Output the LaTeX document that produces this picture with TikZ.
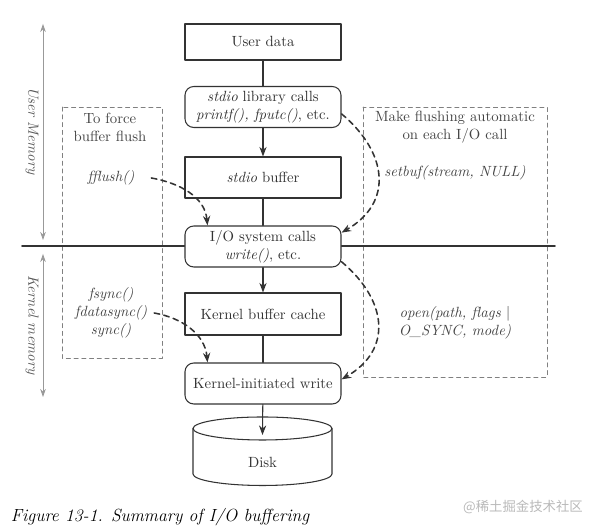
\documentclass[tikz,border=0pt]{standalone}
\usepackage{fontspec}
\newfontfamily\cjk{Noto Sans CJK SC}
\usetikzlibrary{calc,arrows.meta}
\definecolor{ink}{HTML}{333333}
\definecolor{sidetext}{HTML}{444444}
\begin{document}
\begin{tikzpicture}[x=0.025cm, y=0.025cm, font=\fontsize{10.5}{12.8}\selectfont, line join=round, line cap=round, >={Stealth[length=2.4mm,width=1.8mm]},
    box/.style={draw=ink, line width=0.75pt, fill=white, text=ink, align=center, minimum width=3.9cm, minimum height=1.025cm, inner sep=1pt},
    rbox/.style={box, rounded corners=2.2mm},
    link/.style={draw=ink, line width=0.75pt},
    flush/.style={->, draw=ink, line width=1.1pt, dash pattern=on 4pt off 3pt},
    zone/.style={draw=gray, line width=0.5pt, dash pattern=on 3pt off 2.5pt},
    memspan/.style={<->, draw=gray!80, line width=0.6pt, >={Stealth[length=2mm,width=1.4mm]}},
    side/.style={text=sidetext, align=center},
    call/.style={side, font=\fontsize{10.5}{12.8}\selectfont\itshape}]
    \useasboundingbox (0,0) rectangle (595,530);
    % dashed zones and the user/kernel split
    \draw[zone] (62,423) rectangle (162,172);
    \draw[zone] (363,423) rectangle (547,153);
    \coordinate (splitw) at (22,284);
    \coordinate (splite) at (555,284);
    \draw[line width=1.3pt, ink] (splitw) -- (splite);
    \coordinate (utop) at (43,506);
    \coordinate (ubot) at (43,290);
    \coordinate (ktop) at (43,276);
    \coordinate (kbot) at (43,133);
    \draw[memspan] (utop) -- (ubot);
    \draw[memspan] (ktop) -- (kbot);
    \node[call, rotate=-90, text=gray!70!black] (umem) at (32,399) {User Memory};
    \node[call, rotate=-90, text=gray!70!black] (kmem) at (32,205) {Kernel memory};
    % main chain
    \node[box, minimum height=0.9cm] (user) at (263,488) {User data};
    \node[rbox] (lib) at (263,423) {\textit{stdio} library calls\\\textit{printf(), fputc()}, etc.};
    \node[box] (buf) at (263,352.5) {\textit{stdio} buffer};
    \node[rbox] (io) at (263,283.5) {I/O system calls\\\textit{write()}, etc.};
    \node[box, minimum height=1.05cm] (cache) at (263,216) {Kernel buffer cache};
    \node[rbox] (kwrite) at (263,146.5) {Kernel-initiated write};
    \draw[link, fill=white] (193,101.5) -- (193,56) arc[start angle=180, end angle=360, x radius=69.5, y radius=11.5] -- (332,101.5);
    \draw[link, fill=white] (262.5,101.5) ellipse [x radius=69.5, y radius=11.5];
    \node[text=ink] (disk) at (262.5,68) {Disk};
    \coordinate (disktop) at (262.5,95);
    \foreach \a/\b in {user/lib, buf/io, cache/kwrite}
        \draw[link] (\a) -- (\b);
    \foreach \a/\b in {lib/buf, io/cache, kwrite/disktop}
        \draw[link, ->] (\a) -- (\b);
    % side notes
    \node[side] (force) at (110,402.5) {To force\\buffer flush};
    \node[call] (fflush) at (111,352) {fflush()};
    \node[call] (fsync) at (111,217) {fsync()\\fdatasync()\\sync()};
    \node[side] (auto) at (455,402.5) {Make flushing automatic\\on each I/O call};
    \node[call] (setbuf) at (455,357) {setbuf(stream, NULL)};
    \node[call] (osync) at (455,207.5) {open(path, flags \textup{|}\\O\_SYNC, mode)};
    \draw[flush] ($(fflush.east)+(12,0)$) to[out=-10, in=95] ($(io.north west)+(23,0)$);
    \draw[flush] ($(fsync.east)+(2,0)$) to[out=-10, in=95] ($(kwrite.north west)+(23,0)$);
    \draw[flush] (lib.-5) to[out=-40, in=30, looseness=1.3] (io.10);
    \draw[flush] (io.-11) to[out=-40, in=30, looseness=1.3] (kwrite.3);
    \node[anchor=west, font=\fontsize{12.5}{14}\selectfont\itshape] (caption) at (6,13) {Figure 13-1. Summary of I/O buffering};
    \node[text=gray!55, font=\cjk\fontsize{9.5}{11}\selectfont] (mark) at (523,23) {@稀土掘金技术社区};
\end{tikzpicture}
\end{document}
